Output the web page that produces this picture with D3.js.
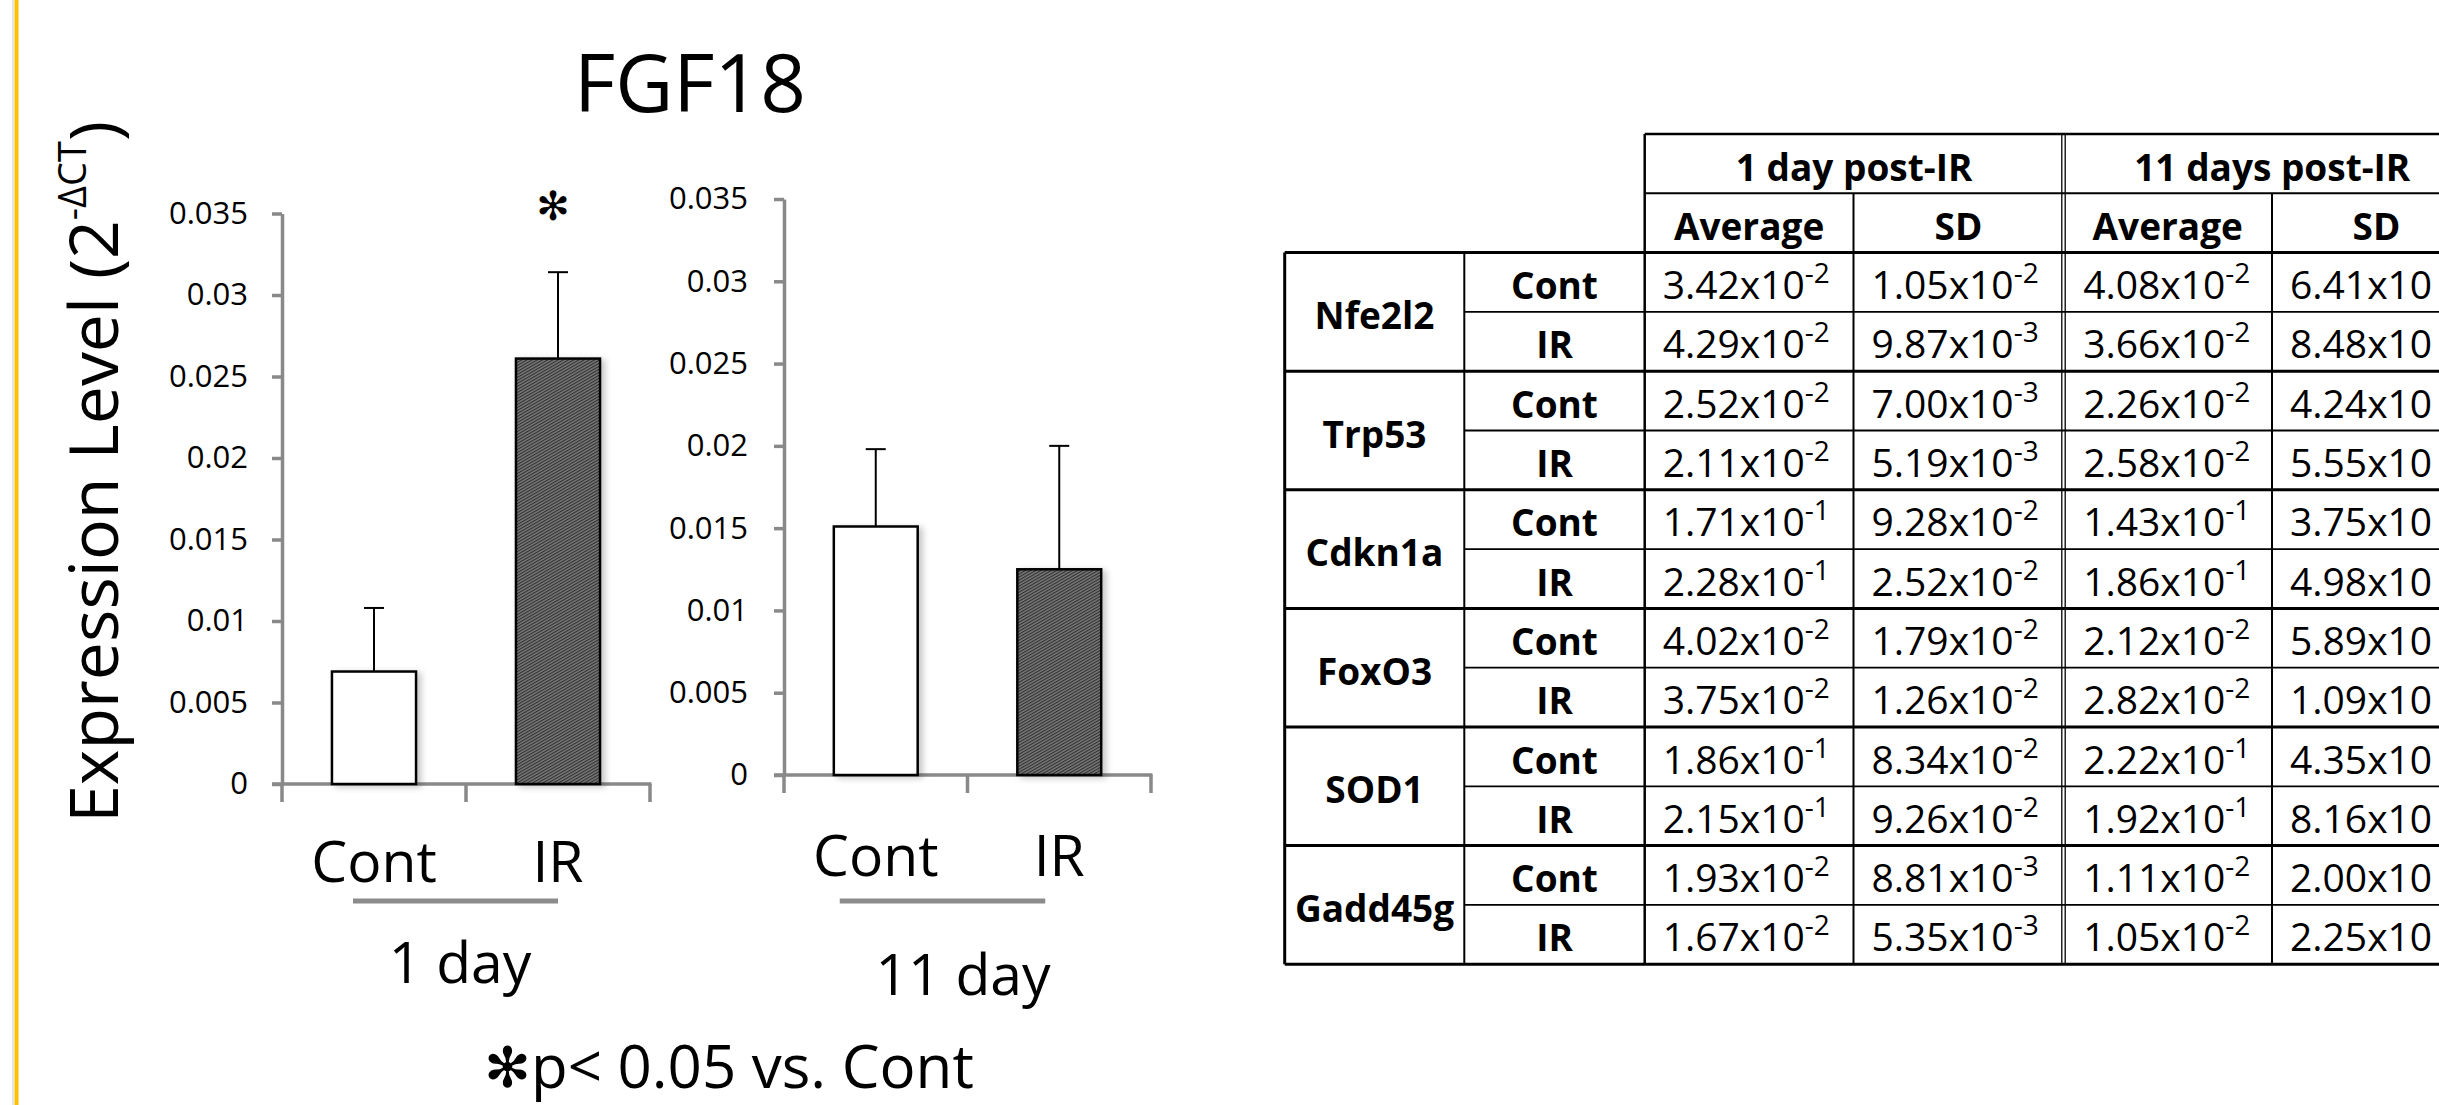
<!DOCTYPE html>
<html lang="en">
<head>
<meta charset="utf-8">
<title>FGF18</title>
<script src="https://d3js.org/d3.v7.min.js"></script>
<style>
  body { margin: 0; background: #fff; overflow: hidden; }
  svg text { font-family: "Open Sans", sans-serif; fill: #000; }
  .sym { font-family: "DejaVu Sans", sans-serif; }
</style>
</head>
<body>
<script>
// ---- chart data ----
var groups = ["Cont", "IR"];
var dayLabels = ["1 day", "11 day"];
var mean1Day = [0.0069, 0.0261];
var sd1Day = [0.0039, 0.0053];
var mean11Day = [0.0151, 0.0125];
var sd11Day = [0.0047, 0.0075];
var signif1Day = [false, true];
var signif11Day = [false, false];
var yTicks = [0, 0.005, 0.01, 0.015, 0.02, 0.025, 0.03, 0.035];
var yTickLabels = ["0", "0.005", "0.01", "0.015", "0.02", "0.025", "0.03", "0.035"];

// ---- table data ----
var genes = ["Nfe2l2", "Trp53", "Cdkn1a", "FoxO3", "SOD1", "Gadd45g"];
var treatments = ["Cont", "IR"];
var timeHeaders = ["1 day post-IR", "11 days post-IR"];
var statHeaders = ["Average", "SD", "Average", "SD"];
var avg1Day = [0.0342, 0.0429, 0.0252, 0.0211, 0.171, 0.228, 0.0402, 0.0375, 0.186, 0.215, 0.0193, 0.0167];
var sdev1Day = [0.0105, 0.00987, 0.0070, 0.00519, 0.0928, 0.0252, 0.0179, 0.0126, 0.0834, 0.0926, 0.00881, 0.00535];
var avg11Day = [0.0408, 0.0366, 0.0226, 0.0258, 0.143, 0.186, 0.0212, 0.0282, 0.222, 0.192, 0.0111, 0.0105];
// last column is cut at the image edge: only the mantissa is visible
var sdev11DayMantissa = [6.41, 8.48, 4.24, 5.55, 3.75, 4.98, 5.89, 1.09, 4.35, 8.16, 2.00, 2.25];

var W = 2439, H = 1105;
var axisGrey = "#898989";

var svg = d3.select("body").append("svg")
    .attr("width", W)
    .attr("height", H);

var defs = svg.append("defs");
var pat = defs.append("pattern")
    .attr("id", "hatch")
    .attr("patternUnits", "userSpaceOnUse")
    .attr("width", 4)
    .attr("height", 2.6)
    .attr("patternTransform", "rotate(-30)");
pat.append("rect").attr("width", 4).attr("height", 2.6).attr("fill", "#7a7a7a");
pat.append("rect").attr("width", 4).attr("height", 1.1).attr("fill", "#2e2e2e");

var shadow = defs.append("filter")
    .attr("id", "shadow")
    .attr("x", "-20%").attr("y", "-10%")
    .attr("width", "150%").attr("height", "130%");
shadow.append("feDropShadow")
    .attr("dx", 4).attr("dy", 2)
    .attr("stdDeviation", 3)
    .attr("flood-color", "#000")
    .attr("flood-opacity", 0.22);

// slide border on the left
svg.append("rect").attr("x", 12).attr("y", 0).attr("width", 2).attr("height", H).attr("fill", "#e4e4e4");
svg.append("rect").attr("x", 14.5).attr("y", 0).attr("width", 4).attr("height", H).attr("fill", "#FFC000");

// title
svg.append("text")
    .attr("x", 690)
    .attr("y", 112)
    .attr("text-anchor", "middle")
    .attr("font-size", 80)
    .text("FGF18");

// y axis title
var yTitle = svg.append("text")
    .attr("transform", "translate(118,121) rotate(-90)")
    .attr("text-anchor", "end")
    .attr("font-size", 68);
yTitle.append("tspan").text("Expression Level (2");
yTitle.append("tspan").attr("font-size", 38).attr("dy", -32).text("-\u0394CT");
yTitle.append("tspan").attr("dy", 32).text(")");

var panels = [
  {means: mean1Day, sds: sd1Day, sig: signif1Day, day: dayLabels[0],
   x0: 282, x1: 650, yTop: 213.5, yBase: 784, labelPad: 24,
   catY: 882, lineY: 901, lineOff: [-21, 0], dayX: 460, dayY: 983},
  {means: mean11Day, sds: sd11Day, sig: signif11Day, day: dayLabels[1],
   x0: 784, x1: 1151, yTop: 199, yBase: 775, labelPad: 26,
   catY: 876, lineY: 901, lineOff: [-36, -14], dayX: 963, dayY: 995}
];

panels.forEach(function(p) {
  var y = d3.scaleLinear().domain([0, 0.035]).range([p.yBase, p.yTop]);
  var x = d3.scaleBand().domain(groups).range([p.x0, p.x1])
      .paddingInner(0.543).paddingOuter(0.2715);
  var cx = function(d) { return x(d) + x.bandwidth() / 2; };

  var gy = svg.append("g")
      .attr("transform", "translate(" + p.x0 + ",0)")
      .call(d3.axisLeft(y)
        .tickValues(yTicks)
        .tickFormat(function(d, i) { return yTickLabels[i]; })
        .tickSize(10)
        .tickSizeOuter(0)
        .tickPadding(p.labelPad));
  gy.select(".domain").attr("stroke", axisGrey).attr("stroke-width", 3.5);
  gy.selectAll(".tick line").attr("stroke", axisGrey).attr("stroke-width", 3.5);
  gy.selectAll(".tick text")
      .attr("font-size", 31)
      .attr("font-family", "Open Sans")
      .attr("fill", "#000");

  // horizontal axis with category boundary ticks
  svg.append("line")
      .attr("x1", p.x0 - 10).attr("x2", p.x1 + 1.5)
      .attr("y1", y(0)).attr("y2", y(0))
      .attr("stroke", axisGrey).attr("stroke-width", 3.5);
  var bounds = d3.range(groups.length + 1).map(function(i) { return p.x0 + i * x.step(); });
  svg.selectAll(null).data(bounds).enter().append("line")
      .attr("x1", function(d) { return d; }).attr("x2", function(d) { return d; })
      .attr("y1", y(0)).attr("y2", y(0) + 18)
      .attr("stroke", axisGrey).attr("stroke-width", 3.5);

  // bars
  svg.selectAll(null).data(groups).enter().append("rect")
      .attr("x", function(d) { return x(d); })
      .attr("y", function(d, i) { return y(p.means[i]); })
      .attr("width", x.bandwidth())
      .attr("height", function(d, i) { return y(0) - y(p.means[i]); })
      .attr("fill", function(d, i) { return i === 0 ? "#fff" : "url(#hatch)"; })
      .attr("stroke", "#000")
      .attr("stroke-width", 2.5)
      .attr("filter", "url(#shadow)");

  // error bars (plus only)
  svg.selectAll(null).data(groups).enter().append("line")
      .attr("x1", cx).attr("x2", cx)
      .attr("y1", function(d, i) { return y(p.means[i]); })
      .attr("y2", function(d, i) { return y(p.means[i] + p.sds[i]); })
      .attr("stroke", "#000").attr("stroke-width", 2);
  svg.selectAll(null).data(groups).enter().append("line")
      .attr("x1", function(d) { return cx(d) - 10; })
      .attr("x2", function(d) { return cx(d) + 10; })
      .attr("y1", function(d, i) { return y(p.means[i] + p.sds[i]); })
      .attr("y2", function(d, i) { return y(p.means[i] + p.sds[i]); })
      .attr("stroke", "#000").attr("stroke-width", 2);

  // significance marks
  svg.selectAll(null).data(groups.filter(function(d, i) { return p.sig[i]; })).enter().append("text")
      .attr("class", "sym")
      .attr("x", function(d) { return cx(d) - 5; })
      .attr("y", function(d) { var i = groups.indexOf(d); return y(p.means[i] + p.sds[i]) - 66; })
      .attr("text-anchor", "middle")
      .attr("dominant-baseline", "central")
      .attr("font-size", 40)
      .text("\u273B");

  // category labels
  svg.selectAll(null).data(groups).enter().append("text")
      .attr("x", cx)
      .attr("y", p.catY)
      .attr("text-anchor", "middle")
      .attr("font-size", 57)
      .text(function(d) { return d; });

  svg.append("line")
      .attr("x1", cx(groups[0]) + p.lineOff[0])
      .attr("x2", cx(groups[1]) + p.lineOff[1])
      .attr("y1", p.lineY).attr("y2", p.lineY)
      .attr("stroke", "#8c8c8c").attr("stroke-width", 5);

  svg.append("text")
      .attr("x", p.dayX)
      .attr("y", p.dayY)
      .attr("text-anchor", "middle")
      .attr("font-size", 57)
      .text(p.day);
});

// footnote
var foot = svg.append("text").attr("x", 484).attr("y", 1088).attr("font-size", 60);
foot.append("tspan").attr("class", "sym").attr("font-size", 56).attr("dy", -1).text("\u273B");
foot.append("tspan").attr("dy", 1).text("p< 0.05 vs. Cont");

// ---- table ----
var cols = [1284.7, 1464.3, 1644.7, 1853.5, 2063.5, 2272, 2481];
var tTop = 134, rowH = 59.3, nData = genes.length * treatments.length;
var rowTop = function(r) { return tTop + r * rowH; };   // r = 0,1 header rows; 2.. data rows
var tBottom = rowTop(nData + 2);
var tbl = svg.append("g");

var hLines = [
  {x1: cols[2], y: rowTop(0), w: 2.5},
  {x1: cols[2], y: rowTop(1), w: 2},
  {x1: cols[0], y: rowTop(2), w: 3},
  {x1: cols[0], y: tBottom, w: 3}
];
d3.range(1, nData).forEach(function(k) {
  hLines.push({x1: k % 2 === 0 ? cols[0] : cols[1], y: rowTop(k + 2), w: k % 2 === 0 ? 3 : 1.8});
});
tbl.selectAll(null).data(hLines).enter().append("line")
    .attr("x1", function(d) { return d.x1; }).attr("x2", W)
    .attr("y1", function(d) { return d.y; }).attr("y2", function(d) { return d.y; })
    .attr("stroke", "#000").attr("stroke-width", function(d) { return d.w; });

var vLines = [
  {x: cols[0], y1: rowTop(2), w: 3},
  {x: cols[1], y1: rowTop(2), w: 2},
  {x: cols[2], y1: rowTop(0), w: 2.5},
  {x: cols[3], y1: rowTop(1), w: 2},
  {x: cols[4] - 1.7, y1: rowTop(0), w: 1.3},
  {x: cols[4] + 1.7, y1: rowTop(0), w: 1.3},
  {x: cols[5], y1: rowTop(1), w: 2}
];
tbl.selectAll(null).data(vLines).enter().append("line")
    .attr("x1", function(d) { return d.x; }).attr("x2", function(d) { return d.x; })
    .attr("y1", function(d) { return d.y1; }).attr("y2", tBottom)
    .attr("stroke", "#000").attr("stroke-width", function(d) { return d.w; });

var boldText = function(sel) {
  return sel.attr("font-weight", 700).attr("font-size", 37).attr("text-anchor", "middle");
};

// header rows
boldText(tbl.selectAll(null).data(timeHeaders).enter().append("text"))
    .attr("x", function(d, i) { return (cols[2 + 2 * i] + cols[4 + 2 * i]) / 2; })
    .attr("y", rowTop(0) + 46.5)
    .text(function(d) { return d; });
boldText(tbl.selectAll(null).data(statHeaders).enter().append("text"))
    .attr("x", function(d, i) { return (cols[2 + i] + cols[3 + i]) / 2; })
    .attr("y", rowTop(1) + 46.5)
    .text(function(d) { return d; });

// gene names and treatment labels
boldText(tbl.selectAll(null).data(genes).enter().append("text"))
    .attr("x", (cols[0] + cols[1]) / 2)
    .attr("y", function(d, i) { return rowTop(2 + 2 * i) + rowH + 17; })
    .text(function(d) { return d; });
boldText(tbl.selectAll(null).data(d3.range(nData)).enter().append("text"))
    .attr("x", (cols[1] + cols[2]) / 2)
    .attr("y", function(k) { return rowTop(k + 2) + 46.5; })
    .text(function(k) { return treatments[k % 2]; });

// value cells
var sci = function(v) { var s = v.toExponential(2).split("e"); return {m: s[0], e: s[1]}; };
var valueCols = [
  {vals: avg1Day.map(sci), left: cols[2]},
  {vals: sdev1Day.map(sci), left: cols[3]},
  {vals: avg11Day.map(sci), left: cols[4] + 1.7},
  {vals: sdev11DayMantissa.map(function(v) { return {m: v.toFixed(2), e: null}; }), left: cols[5]}
];
valueCols.forEach(function(c) {
  var t = tbl.selectAll(null).data(c.vals).enter().append("text")
      .attr("x", c.left + 18)
      .attr("y", function(d, k) { return rowTop(k + 2) + 46.5; })
      .attr("font-size", 39);
  t.append("tspan").text(function(d) { return d.m + "x10"; });
  t.filter(function(d) { return d.e !== null; })
    .append("tspan")
      .attr("dy", -16)
      .attr("font-size", 28)
      .text(function(d) { return d.e; });
});
</script>
</body>
</html>
